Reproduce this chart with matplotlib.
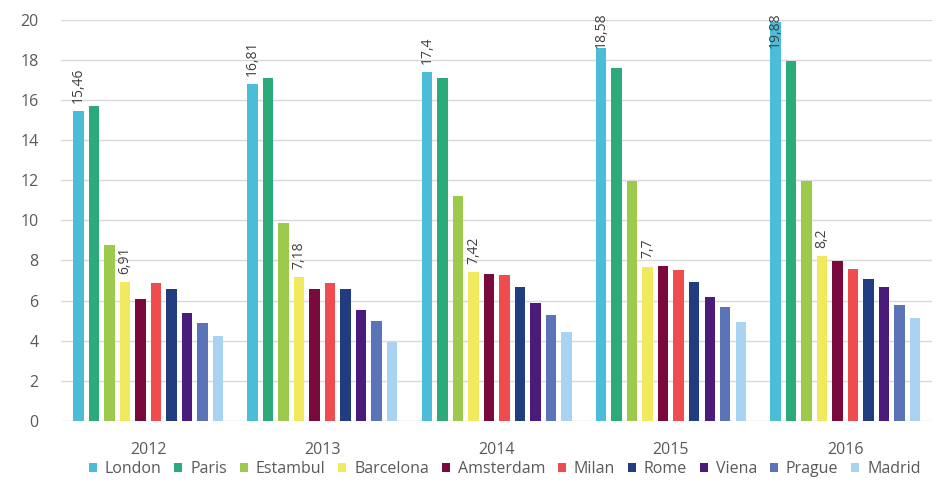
import matplotlib.pyplot as plt
import numpy as np

plt.rcParams['font.family'] = ['Open Sans', 'DejaVu Sans']

years = ['2012', '2013', '2014', '2015', '2016']
cities = ['London', 'Paris', 'Estambul', 'Barcelona', 'Amsterdam',
          'Milan', 'Rome', 'Viena', 'Prague', 'Madrid']

london = [15.46, 16.81, 17.4, 18.58, 19.88]
paris = [15.7, 17.1, 17.1, 17.6, 17.95]
estambul = [8.75, 9.85, 11.2, 11.95, 11.95]
barcelona = [6.91, 7.18, 7.42, 7.7, 8.2]
amsterdam = [6.08, 6.58, 7.33, 7.73, 7.95]
milan = [6.88, 6.9, 7.27, 7.53, 7.6]
rome = [6.58, 6.58, 6.7, 6.95, 7.1]
viena = [5.38, 5.54, 5.87, 6.2, 6.66]
prague = [4.88, 4.99, 5.29, 5.67, 5.78]
madrid = [4.24, 3.95, 4.45, 4.95, 5.15]

series = [london, paris, estambul, barcelona, amsterdam,
          milan, rome, viena, prague, madrid]
colors = ['#4bbdd9', '#2daa7a', '#9dca4c', '#f2ea5e', '#7b0a3c',
          '#ee4c4f', '#213d80', '#4b1b7c', '#5b74b8', '#a9d3f1']
labelled = {'London', 'Barcelona'}

fig, ax = plt.subplots(figsize=(9.38, 4.86), dpi=100)
fig.subplots_adjust(left=0.065, right=0.994, bottom=0.134, top=0.959)

x = np.arange(len(years))
pitch = 0.089
width = 0.06

for i, (name, vals, col) in enumerate(zip(cities, series, colors)):
    pos = x + (i - 4.5) * pitch
    ax.bar(pos, vals, width=width, color=col, label=name, zorder=3)
    if name in labelled:
        for px, v in zip(pos, vals):
            txt = f'{v:g}'.replace('.', ',')
            ax.text(px, min(v + 0.4, 18.6), txt, rotation=90, ha='center',
                    va='bottom', fontsize=10, color='#404040', zorder=4)

ax.set_xlim(-0.5, len(years) - 0.5)
ax.set_ylim(0, 20)
ax.set_yticks(range(0, 21, 2))
ax.set_xticks(x)
ax.set_xticklabels(years)
ax.grid(axis='y', color='#d9d9d9', linewidth=1, zorder=0)
for s in ax.spines.values():
    s.set_visible(False)
ax.tick_params(length=0, colors='#595959', labelsize=11.5)
ax.tick_params(axis='y', pad=16)
ax.tick_params(axis='x', pad=15)

fig.legend(loc='lower center', bbox_to_anchor=(0.538, -0.012), ncol=10,
           frameon=False, fontsize=11.5, handlelength=0.5, handleheight=0.5,
           handletextpad=0.5, columnspacing=0.8, labelcolor='#595959')

fig.savefig('out.png')
